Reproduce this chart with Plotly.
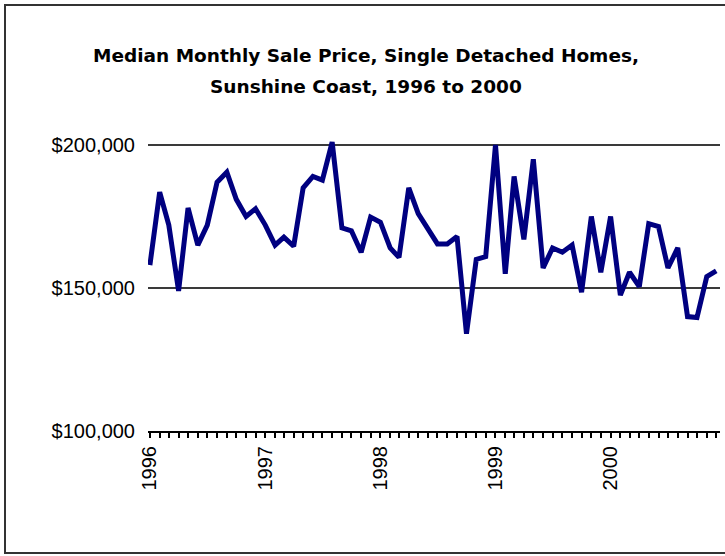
import plotly.graph_objects as go
import pandas as pd

months = pd.date_range("1996-01-01", periods=60, freq="MS")
prices = [
    158000, 183500, 172000, 149000, 178000, 165000, 172000, 187000, 190500, 181000,
    175000, 177700, 172000, 165000, 167800, 164600, 185000, 189000, 187700, 201000,
    171000, 170000, 162500, 174800, 173000, 164000, 160700, 185000, 176000, 171000,
    165400, 165400, 168000, 134000, 160000, 161000, 200000, 155000, 189000, 167000,
    195000, 157000, 164000, 162500, 165000, 148500, 175000, 155500, 175000, 147500,
    155500, 150500, 172500, 171500, 157000, 164000, 140000, 139700, 154000, 156000,
]
year_ticks = ["1996-01-01", "1997-01-01", "1998-01-01", "1999-01-01", "2000-01-01"]
year_labels = ["1996", "1997", "1998", "1999", "2000"]
y_ticks = [100000, 150000, 200000]
y_labels = ["$100,000", "$150,000", "$200,000"]

title_lines = ["Median Monthly Sale Price, Single Detached Homes,",
               "Sunshine Coast, 1996 to 2000"]

fig = go.Figure()
fig.add_trace(go.Scatter(x=months, y=prices, mode="lines",
                         line=dict(color="#000080", width=5),
                         hoverinfo="x+y", showlegend=False))

W, H = 725, 556
L, T = 148, 120
R = W - 720
B = H - 431
pw = W - L - R
ph = H - T - B

def px(xs):
    return (xs - L) / pw

def py(ys):
    return (H - B - ys) / ph

fig.update_layout(
    width=W, height=H,
    margin=dict(l=L, r=R, t=T, b=B, pad=0),
    paper_bgcolor="white", plot_bgcolor="white",
    font=dict(family="Liberation Sans, Arial, sans-serif", color="black", size=20),
    xaxis=dict(
        range=["1995-12-26", "2000-12-13"],
        tickvals=year_ticks, ticktext=year_labels,
        tickangle=-90,
        ticks="outside", ticklen=5, tickwidth=1.5, tickcolor="black",
        minor=dict(dtick="M1", ticks="outside", ticklen=5, tickwidth=1.5,
                   tickcolor="black", tick0="1996-01-01", showgrid=False),
        showline=True, linecolor="black", linewidth=2,
        showgrid=False, zeroline=False,
        tickfont=dict(size=20),
    ),
    yaxis=dict(
        range=[100000, 100000 + ph / 286.0 * 100000],
        tickvals=y_ticks, ticktext=y_labels,
        showgrid=True, gridcolor="#3a3a3a", gridwidth=2,
        showline=False, zeroline=False, ticks="",
        ticklabelstandoff=12,
        tickfont=dict(size=20),
    ),
)

tfont = dict(family="DejaVu Sans", size=18.5, color="black", weight="bold")
fig.add_annotation(x=px(366), y=py(55), xref="paper", yref="paper",
                   text=title_lines[0], showarrow=False, font=tfont,
                   xanchor="center", yanchor="middle")
fig.add_annotation(x=px(366), y=py(87), xref="paper", yref="paper",
                   text=title_lines[1], showarrow=False, font=tfont,
                   xanchor="center", yanchor="middle")

fig.add_shape(type="rect", xref="paper", yref="paper",
              x0=px(5), x1=px(760), y0=py(553), y1=py(5),
              line=dict(color="#333333", width=2), fillcolor="rgba(0,0,0,0)",
              layer="below")

fig.write_html("out.html",
               config={"displayModeBar": False},
               post_script="document.body.style.margin='0';document.body.style.overflow='hidden';")
